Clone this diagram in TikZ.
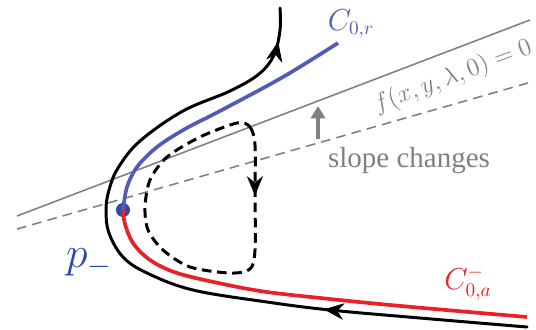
\documentclass[tikz,border=0pt]{standalone}
\usepackage{amsmath}
\usepackage{fontspec}
\setmainfont{Liberation Serif}
\usetikzlibrary{arrows.meta, decorations.markings}

\definecolor{slowblue}{RGB}{82,92,184}
\definecolor{dotblue}{RGB}{44,74,170}
\definecolor{slowred}{RGB}{234,32,38}
\definecolor{guidegray}{RGB}{128,128,128}

\begin{document}
\begin{tikzpicture}[
		x=0.02cm, y=-0.02cm,
		% --- STYLES ---
		orbit/.style={
			draw, black, line width=1.7pt, line cap=round
		},
		manifold/.style={
			draw, line width=2.1pt
		},
		guide/.style={
			draw, guidegray, line width=0.9pt
		},
		guidedash/.style={
			guide, dash pattern=on 5.5pt off 3.5pt
		},
		looppath/.style={
			draw, black, line width=1.7pt, dash pattern=on 5.5pt off 3.2pt
		},
		midarrow/.style={
			postaction={decorate},
			decoration={markings, mark=at position #1 with {\arrow{Stealth[length=11pt, width=9pt]}}}
		},
		lbl/.style={
			inner sep=0pt, font=\fontsize{16}{18}\selectfont
		}
		]
		\useasboundingbox (0,0) rectangle (536,329);
		
		% ==========================================
		% 1. Nullcline and shifted nullcline
		% ==========================================
		\coordinate (null_a) at (17,216);
		\coordinate (null_b) at (530,20);
		\coordinate (shift_a) at (17,229);
		\coordinate (shift_b) at (528,83);
		\draw [guide] (null_a) -- (null_b);
		\draw [guidedash] (shift_a) -- (shift_b);
		
		\node [lbl, guidegray, rotate=20.9, font=\fontsize{13.5}{16}\selectfont] (nulllabel) at (453,77) {$f(x,y,\lambda,0)=0$};
		\node [lbl, guidegray, font=\fontsize{16.5}{19}\selectfont] (slopelabel) at (409,161) {slope changes};
		
		\coordinate (shift_foot) at (318,139);
		\coordinate (shift_head) at (318,106);
		\draw [guidegray, line width=2.4pt, -{Triangle[length=7pt, width=8pt]}] (shift_foot) -- (shift_head);
		
		% ==========================================
		% 2. Slow manifolds
		% ==========================================
		\node [circle, fill=dotblue, inner sep=0pt, minimum size=8pt] (pminus) at (123,210) {};
		
		\draw [manifold, slowblue] plot[smooth, tension=0.55] coordinates {
			(123,210) (127,187) (137,167) (157,147) (185,129) (220,111) (283,77) (338,43)};
		\draw [manifold, slowred] plot[smooth, tension=0.55] coordinates {
			(123,210) (125,224) (133,243) (150,260) (177,273) (223,284) (267,292) (330,299) (401,306) (527,317)};
		
		\node [lbl, slowblue] (c0r) at (351,24) {$C_{0,r}$};
		\node [lbl, slowred] (c0a) at (468,283) {$C_{0,a}^{-}$};
		\node [lbl, dotblue, font=\fontsize{24}{26}\selectfont] (pminuslabel) at (89,263) {$p_{-}$};
		
		% ==========================================
		% 3. Trajectories
		% ==========================================
		\draw [orbit, midarrow=0.27, midarrow=0.955] plot[smooth, tension=0.6] coordinates {
			(527,327) (420,318) (330,310) (267,302) (193,290) (147,273) (123,257) (109,233) (106,210) (109,190) (118,168) (140,141) (183,111) (230,91) (259,74) (274,55) (280,30) (280,8)};
		
		\draw [looppath, midarrow=0.16] plot[smooth cycle, tension=0.5] coordinates {
			(237,123) (250,127) (255,145) (255,190) (255,250) (250,269) (230,273) (190,267) (163,250) (148,230) (145,207) (150,180) (167,157) (200,137)};
	\end{tikzpicture}
\end{document}
